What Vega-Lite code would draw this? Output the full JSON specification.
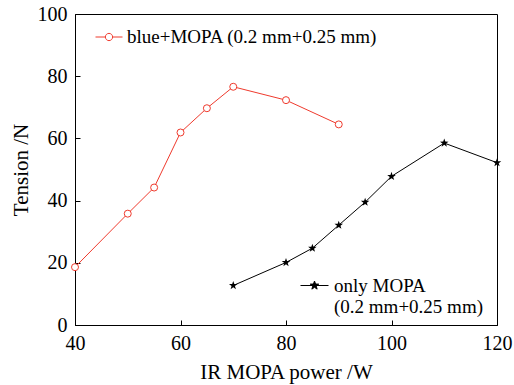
{
  "$schema": "https://vega.github.io/schema/vega-lite/v6.json",
  "width": 422,
  "height": 311,
  "autosize": {"type": "none"},
  "padding": {"left": 75, "top": 14, "right": 17, "bottom": 60},
  "background": "white",
  "config": {
    "view": {"stroke": "black", "strokeWidth": 1},
    "font": "Liberation Serif",
    "axis": {
      "domainColor": "black",
      "tickColor": "black",
      "labelColor": "black",
      "titleColor": "black",
      "labelFont": "Liberation Serif",
      "titleFont": "Liberation Serif",
      "labelFontSize": 20,
      "titleFontSize": 21,
      "titleFontWeight": "normal",
      "grid": false,
      "tickSize": -5,
      "labelPadding": 13,
      "labelFlush": false
    },
    "legend": {
      "labelFont": "Liberation Serif",
      "labelFontSize": 19,
      "labelColor": "black",
      "labelLimit": 0,
      "padding": 0,
      "orient": "none"
    }
  },
  "data": {
    "values": [
      {"series": "blue+MOPA (0.2 mm+0.25 mm)", "power": 40, "tension": 18.6},
      {"series": "blue+MOPA (0.2 mm+0.25 mm)", "power": 50, "tension": 35.8},
      {"series": "blue+MOPA (0.2 mm+0.25 mm)", "power": 55, "tension": 44.2},
      {"series": "blue+MOPA (0.2 mm+0.25 mm)", "power": 60, "tension": 61.9},
      {"series": "blue+MOPA (0.2 mm+0.25 mm)", "power": 65, "tension": 69.7},
      {"series": "blue+MOPA (0.2 mm+0.25 mm)", "power": 70, "tension": 76.6},
      {"series": "blue+MOPA (0.2 mm+0.25 mm)", "power": 80, "tension": 72.3},
      {"series": "blue+MOPA (0.2 mm+0.25 mm)", "power": 90, "tension": 64.5},
      {"series": "only MOPA", "power": 70, "tension": 12.7},
      {"series": "only MOPA", "power": 80, "tension": 20.1},
      {"series": "only MOPA", "power": 85, "tension": 24.7},
      {"series": "only MOPA", "power": 90, "tension": 32.1},
      {"series": "only MOPA", "power": 95, "tension": 39.5},
      {"series": "only MOPA", "power": 100, "tension": 47.8},
      {"series": "only MOPA", "power": 110, "tension": 58.5},
      {"series": "only MOPA", "power": 120, "tension": 52.2}
    ]
  },
  "encoding": {
    "x": {
      "field": "power",
      "type": "quantitative",
      "scale": {"domain": [40, 120], "nice": false, "zero": false},
      "axis": {"values": [40, 60, 80, 100, 120], "title": "IR MOPA power /W", "titlePadding": 8}
    },
    "y": {
      "field": "tension",
      "type": "quantitative",
      "scale": {"domain": [0, 100], "nice": false},
      "axis": {"values": [0, 20, 40, 60, 80, 100], "title": "Tension /N", "titlePadding": 6}
    }
  },
  "layer": [
    {
      "transform": [{"filter": "datum.series == 'blue+MOPA (0.2 mm+0.25 mm)'"}],
      "mark": {
        "type": "line",
        "strokeWidth": 1,
        "clip": false,
        "point": {"shape": "circle", "filled": false, "fill": "white", "size": 49, "strokeWidth": 1}
      },
      "encoding": {
        "color": {
          "field": "series",
          "type": "nominal",
          "scale": {"range": ["#ef3a2d"]},
          "legend": {
            "title": null,
            "legendX": 20,
            "legendY": 9,
            "symbolType": "M-1,0H-0.27M0.27,0H1M0.27,0A0.27,0.27,0,1,1,-0.27,0A0.27,0.27,0,1,1,0.27,0Z",
            "symbolSize": 729,
            "symbolStrokeWidth": 1,
            "symbolFillColor": "white",
            "symbolStrokeColor": "#ef3a2d",
            "labelOffset": 4
          }
        }
      }
    },
    {
      "transform": [{"filter": "datum.series == 'only MOPA'"}],
      "mark": {
        "type": "line",
        "strokeWidth": 1,
        "clip": false,
        "point": {
          "shape": "M0,-1L0.235,-0.324L0.951,-0.309L0.380,0.124L0.588,0.809L0,0.4L-0.588,0.809L-0.380,0.124L-0.951,-0.309L-0.235,-0.324Z",
          "filled": true,
          "size": 81
        }
      },
      "encoding": {
        "color": {
          "field": "series",
          "type": "nominal",
          "scale": {"range": ["black"]},
          "legend": {
            "title": null,
            "legendX": 225,
            "legendY": 257,
            "symbolType": "M-1,0H1M0,-0.32L0.075,-0.104L0.304,-0.099L0.122,0.04L0.188,0.259L0,0.128L-0.188,0.259L-0.122,0.04L-0.304,-0.099L-0.075,-0.104Z",
            "symbolSize": 784,
            "symbolStrokeWidth": 1,
            "symbolFillColor": "black",
            "symbolStrokeColor": "black",
            "labelOffset": 5,
            "labelExpr": "datum.label == 'only MOPA' ? ['only MOPA', '(0.2 mm+0.25 mm)'] : datum.label"
          }
        }
      }
    }
  ],
  "resolve": {"scale": {"color": "independent"}}
}
